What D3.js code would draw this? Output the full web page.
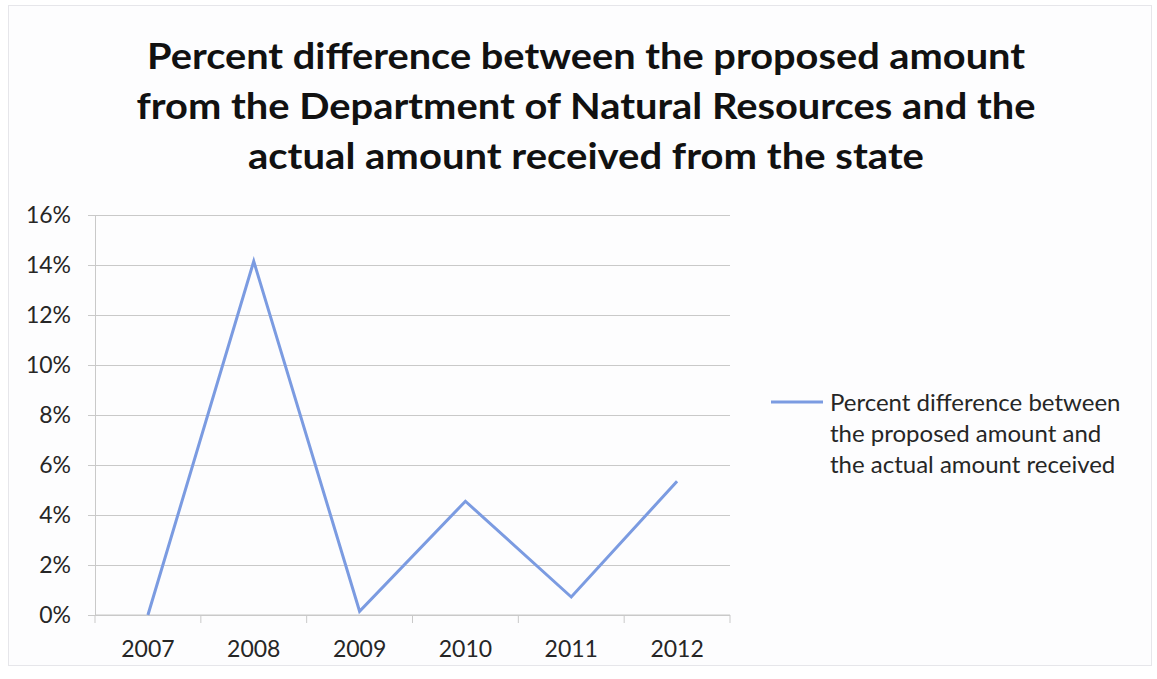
<!DOCTYPE html>
<html>
<head>
<meta charset="utf-8">
<script src="https://cdn.jsdelivr.net/npm/d3@7"></script>
<style>
  html, body { margin: 0; padding: 0; background: #ffffff; }
  svg { display: block; }
  text { font-family: Lato, "Open Sans", sans-serif; }
</style>
</head>
<body>
<svg id="chart" width="1157" height="679"></svg>
<script>
// Series data
const years = ["2007", "2008", "2009", "2010", "2011", "2012"];
const percentDiff = [0.000, 0.1415, 0.0015, 0.0455, 0.0072, 0.0535];
const yTicks = [0, 0.02, 0.04, 0.06, 0.08, 0.10, 0.12, 0.14, 0.16];
const titleLines = [
  "Percent difference between the proposed amount",
  "from the Department of Natural Resources and the",
  "actual amount received from the state"
];
const legendLines = [
  "Percent difference between",
  "the proposed amount and",
  "the actual amount received"
];

const W = 1157, H = 679;
const plot = { left: 95, right: 730, top: 215, bottom: 615 };
const lineColor = "#7b9be1";
const gridColor = "#c9c9c9";
const textColor = "#262626";

const svg = d3.select("#chart");

// chart frame
svg.append("rect")
  .attr("x", 8.5).attr("y", 5.5)
  .attr("width", 1143).attr("height", 660)
  .attr("fill", "#fdfdfe")
  .attr("stroke", "#e6e6ea");

const x = d3.scaleBand().domain(years).range([plot.left, plot.right]).padding(0);
const y = d3.scaleLinear().domain([0, 0.16]).range([plot.bottom, plot.top]);

// title, condensed to the width of the heading block
const titleWidths = [878, 899, 676];
svg.append("g").selectAll("text")
  .data(titleLines)
  .join("text")
  .attr("x", 586)
  .attr("y", (d, i) => 69 + i * 50)
  .attr("text-anchor", "middle")
  .attr("font-size", 36)
  .attr("font-weight", 700)
  .attr("fill", "#111")
  .attr("textLength", (d, i) => titleWidths[i])
  .attr("lengthAdjust", "spacingAndGlyphs")
  .text(d => d);

// y axis with gridlines
const yAxis = d3.axisLeft(y)
  .tickValues(yTicks)
  .tickFormat(d3.format(".0%"))
  .tickSizeInner(-(plot.right - plot.left))
  .tickSizeOuter(0)
  .tickPadding(17 + 7);

const gy = svg.append("g")
  .attr("transform", `translate(${plot.left},0)`)
  .call(yAxis);
gy.select(".domain").attr("stroke", gridColor).attr("stroke-width", 1);
gy.selectAll(".tick line")
  .attr("x1", -7)
  .attr("stroke", gridColor).attr("stroke-width", 1);
gy.selectAll(".tick text")
  .attr("font-size", 23)
  .attr("fill", textColor)
  .attr("font-family", "Lato, sans-serif");

// x axis: ticks at category boundaries
const gx = svg.append("g").attr("transform", `translate(0,${plot.bottom})`);
gx.append("line")
  .attr("x1", plot.left).attr("x2", plot.right)
  .attr("stroke", gridColor);
gx.selectAll("line.tk")
  .data(years.concat(["end"]))
  .join("line")
  .attr("class", "tk")
  .attr("x1", (d, i) => i < years.length ? x(d) : x(years[years.length - 1]) + x.bandwidth())
  .attr("x2", (d, i) => i < years.length ? x(d) : x(years[years.length - 1]) + x.bandwidth())
  .attr("y1", 0).attr("y2", 8)
  .attr("stroke", gridColor);
gx.selectAll("text")
  .data(years)
  .join("text")
  .attr("x", d => x(d) + x.bandwidth() / 2)
  .attr("y", 42)
  .attr("text-anchor", "middle")
  .attr("font-size", 23)
  .attr("fill", textColor)
  .text(d => d);

// series line
const line = d3.line()
  .x((d, i) => x(years[i]) + x.bandwidth() / 2)
  .y(d => y(d));
svg.append("path")
  .datum(percentDiff)
  .attr("d", line)
  .attr("fill", "none")
  .attr("stroke", lineColor)
  .attr("stroke-width", 3)
  .attr("stroke-linejoin", "miter");

// legend
const lg = svg.append("g");
lg.append("line")
  .attr("x1", 771).attr("x2", 823)
  .attr("y1", 402).attr("y2", 402)
  .attr("stroke", lineColor).attr("stroke-width", 3);
lg.selectAll("text")
  .data(legendLines)
  .join("text")
  .attr("x", 830)
  .attr("y", (d, i) => 411 + i * 31)
  .attr("font-size", 24)
  .attr("fill", textColor)
  .text(d => d);
</script>
</body>
</html>
